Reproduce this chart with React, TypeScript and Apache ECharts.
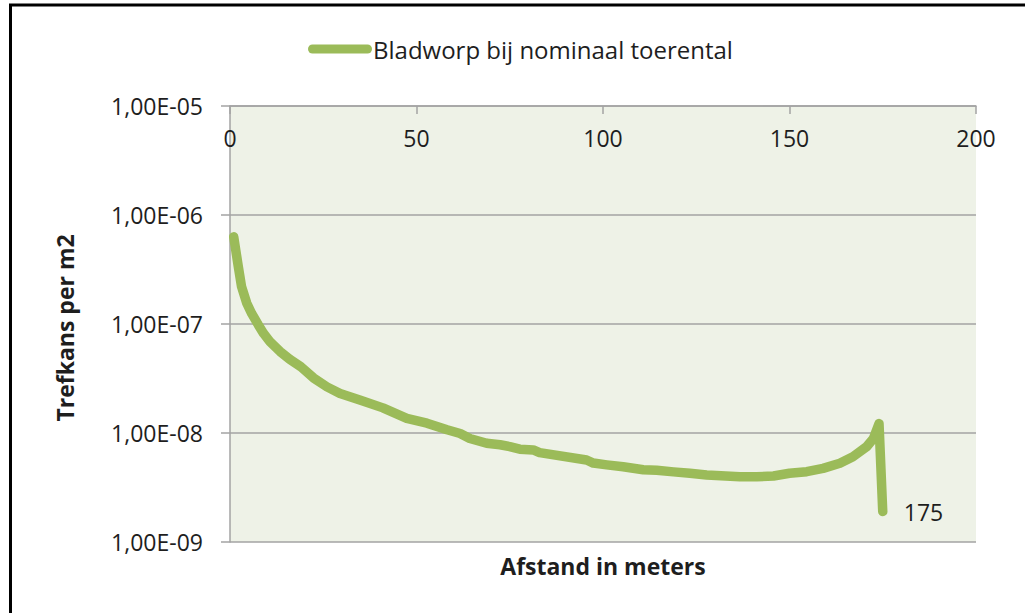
import React, { useEffect, useRef } from "react";
import * as echarts from "echarts";

const seriesName = "Bladworp bij nominaal toerental";
const xTitle = "Afstand in meters";
const yTitle = "Trefkans per m2";

const distances = [
  1.0, 2.2, 3.1, 4.5, 5.8, 7.6, 9.0, 10.7, 13.4, 16.0, 19.0, 22.4, 26.0, 29.5,
  35.0, 41.0, 47.4, 52.8, 58.2, 61.7, 64.3, 68.8, 72.4, 75.0, 77.7, 81.3, 83.0,
  95.6, 97.4, 101.0, 105.4, 110.8, 114.4, 118.9, 123.3, 127.8, 136.7, 141.2,
  145.7, 150.0, 154.6, 159.0, 163.5, 167.0, 170.7, 172.5, 174.0, 175.0,
];

const probabilities = [
  6.3e-7, 3.4e-7, 2.2e-7, 1.55e-7, 1.25e-7, 9.8e-8, 8.2e-8, 6.9e-8, 5.6e-8,
  4.75e-8, 4.05e-8, 3.2e-8, 2.65e-8, 2.3e-8, 2.0e-8, 1.7e-8, 1.36e-8, 1.23e-8,
  1.07e-8, 9.9e-9, 8.9e-9, 8.05e-9, 7.8e-9, 7.5e-9, 7.1e-9, 7.0e-9, 6.6e-9,
  5.65e-9, 5.3e-9, 5.1e-9, 4.9e-9, 4.6e-9, 4.55e-9, 4.4e-9, 4.27e-9, 4.12e-9,
  3.97e-9, 3.97e-9, 4.03e-9, 4.27e-9, 4.42e-9, 4.74e-9, 5.27e-9, 6.05e-9,
  7.5e-9, 8.9e-9, 1.22e-8, 1.9e-9,
];

const xTicks = [0, 50, 100, 150, 200];
const yTickExponents = [-9, -8, -7, -6, -5];
const yTickLabels = ["1,00E-09", "1,00E-08", "1,00E-07", "1,00E-06", "1,00E-05"];

const FONT = "Open Sans";
const GREEN = "#9BBB59";
const GRID = "#A3A3A3";
const TEXT = "#1e1e1e";

export default function App() {
  const ref = useRef<HTMLDivElement>(null);

  useEffect(() => {
    if (!ref.current) return;
    const chart = echarts.init(ref.current, null, { renderer: "svg" });

    const data = distances.map((d, i) => [d, probabilities[i]]);

    chart.setOption({
      animation: false,
      backgroundColor: "#ffffff",
      textStyle: { fontFamily: FONT },
      legend: {
        left: 303,
        top: 32,
        itemWidth: 64,
        itemHeight: 9,
        itemGap: 10,
        icon: "path://M4.5,0 H59.5 A4.5,4.5 0 0 1 59.5,9 H4.5 A4.5,4.5 0 0 1 4.5,0 Z",
        textStyle: { fontFamily: FONT, fontSize: 24, color: TEXT, padding: [0, 0, 0, -4] },
        data: [{ name: seriesName, itemStyle: { color: GREEN } }],
      },
      grid: {
        left: 230,
        right: 49,
        top: 106,
        bottom: 71,
        show: true,
        backgroundColor: "#EEF2E7",
        borderWidth: 0,
      },
      xAxis: {
        type: "value",
        position: "top",
        min: xTicks[0],
        max: xTicks[xTicks.length - 1],
        interval: xTicks[1] - xTicks[0],
        axisLine: { show: true, lineStyle: { color: GRID, width: 1.5 } },
        axisTick: { show: true, inside: true, length: 8, lineStyle: { color: GRID, width: 1.5 } },
        axisLabel: {
          inside: true,
          margin: 20,
          fontFamily: FONT,
          fontSize: 23,
          color: TEXT,
        },
        splitLine: { show: false },
      },
      yAxis: {
        type: "log",
        logBase: 10,
        min: Math.pow(10, yTickExponents[0]),
        max: Math.pow(10, yTickExponents[yTickExponents.length - 1]),
        axisLine: { show: true, lineStyle: { color: GRID, width: 1.5 } },
        axisTick: { show: true, inside: false, length: 9, lineStyle: { color: GRID, width: 1.5 } },
        axisLabel: {
          margin: 27,
          fontFamily: FONT,
          fontSize: 23,
          color: TEXT,
          formatter: (v: number) => {
            const e = Math.round(Math.log10(v));
            const idx = yTickExponents.indexOf(e);
            return idx >= 0 ? yTickLabels[idx] : "";
          },
        },
        splitLine: { show: true, lineStyle: { color: GRID, width: 1.5 } },
      },
      series: [
        {
          name: seriesName,
          type: "line",
          data,
          showSymbol: false,
          symbol: "none",
          smooth: false,
          color: GREEN,
          lineStyle: { color: GREEN, width: 9.5, cap: "round", join: "round" },
          emphasis: { disabled: true },
          endLabel: {
            show: true,
            distance: 21,
            formatter: (p: any) => String(Math.round(p.value[0])),
            fontFamily: FONT,
            fontSize: 23,
            color: TEXT,
          },
        },
      ],
      graphic: [
        {
          type: "line",
          shape: { x1: 10.5, y1: 5, x2: 10.5, y2: 613 },
          style: { stroke: "#000", lineWidth: 3 },
          silent: true,
        },
        {
          type: "line",
          shape: { x1: 9, y1: 5, x2: 1025, y2: 5 },
          style: { stroke: "#000", lineWidth: 3 },
          silent: true,
        },
        {
          type: "text",
          x: 603,
          y: 566,
          style: {
            text: xTitle,
            fontFamily: FONT,
            fontSize: 23,
            fontWeight: "bold",
            fill: TEXT,
            align: "center",
            verticalAlign: "middle",
          },
        },
        {
          type: "text",
          x: 65,
          y: 328,
          rotation: Math.PI / 2,
          style: {
            text: yTitle,
            fontFamily: FONT,
            fontSize: 23,
            fontWeight: "bold",
            fill: TEXT,
            align: "center",
            verticalAlign: "middle",
          },
        },
      ],
    });

    return () => chart.dispose();
  }, []);

  return (
    <div
      ref={ref}
      style={{ position: "absolute", left: 0, top: 0, width: 1025, height: 613 }}
    />
  );
}
